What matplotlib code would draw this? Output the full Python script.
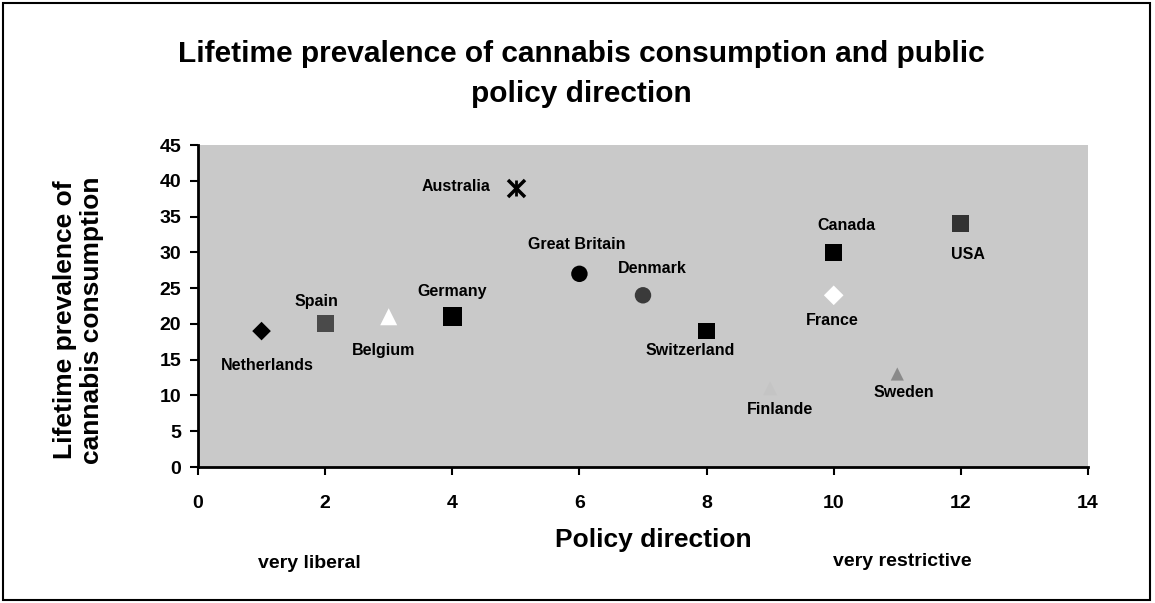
import matplotlib.pyplot as plt
import numpy as np

plt.rcParams['font.family'] = ['Liberation Sans', 'DejaVu Sans']

# data
countries = ["Netherlands", "Spain", "Belgium", "Germany", "Australia", "Great Britain",
             "Denmark", "Switzerland", "Finlande", "Canada", "France", "Sweden", "USA"]
policy = [1, 2, 3, 4, 5, 6, 7, 8, 9, 10, 10, 11, 12]
prevalence = [19, 20, 21, 21, 39, 27, 24, 19, 11, 30, 24, 13, 34]

# marker styles per country
markers = ["D", "s", "^", "s", "x", "o", "o", "s", "^", "s", "D", "^", "s"]
colors = ["black", "#4a4a4a", "white", "black", "black", "black", "#3a3a3a",
          "black", "#c4c4c4", "black", "white", "#8a8a8a", "#333333"]
sizes = [90, 150, 150, 190, 150, 140, 140, 140, 100, 150, 100, 90, 150]
# label offsets in points (dx, dy)
offsets = [(4, -25), (-6, 16), (-4, -24), (0, 18), (-43, 1), (-2, 21), (7, 19),
           (-12, -14), (7, -15), (9, 19), (-1, -18), (5, -13), (5, -22)]

fig = plt.figure(figsize=(11.55, 6.03), dpi=100)
ax = fig.add_axes([0.1714, 0.2255, 0.7706, 0.534])
ax.set_facecolor("#c9c9c9")

for i in range(len(countries)):
    if markers[i] == "x":
        ax.scatter(policy[i], prevalence[i], marker=markers[i], s=sizes[i], c=colors[i],
                   linewidths=2.5, zorder=3)
        ax.scatter(policy[i], prevalence[i], marker="|", s=sizes[i] * 0.8, c=colors[i],
                   linewidths=2, zorder=3)
    else:
        ax.scatter(policy[i], prevalence[i], marker=markers[i], s=sizes[i], c=colors[i],
                   edgecolors="none", zorder=3)
    ax.annotate(countries[i], (policy[i], prevalence[i]), xytext=offsets[i],
                textcoords="offset points", ha="center", va="center",
                fontsize=11.5, fontweight="bold")

ax.set_xlim(0, 14)
ax.set_ylim(0, 45)
ax.set_xticks(np.arange(0, 15, 2))
ax.set_yticks(np.arange(0, 46, 5))
ax.tick_params(axis="both", labelsize=14, width=1.5, length=6, direction="out")
for lab in ax.get_xticklabels() + ax.get_yticklabels():
    lab.set_fontweight("bold")
ax.tick_params(axis="x", pad=14)
ax.tick_params(axis="y", pad=6)
ax.spines["top"].set_visible(False)
ax.spines["right"].set_visible(False)
ax.spines["left"].set_linewidth(2)
ax.spines["bottom"].set_linewidth(2)

ax.set_xlabel("Policy direction", fontsize=19, fontweight="bold")
ax.xaxis.set_label_coords(0.512, -0.19)
ax.set_ylabel("Lifetime prevalence of\ncannabis consumption", fontsize=19,
              fontweight="bold", linespacing=1.15)
ax.yaxis.set_label_coords(-0.106, 0.457)

fig.text(0.503, 0.878, "Lifetime prevalence of cannabis consumption and public\npolicy direction",
         ha="center", va="center", fontsize=21.5, fontweight="bold", linespacing=1.55)
fig.text(0.268, 0.066, "very liberal", ha="center", va="center", fontsize=14, fontweight="bold")
fig.text(0.781, 0.069, "very restrictive", ha="center", va="center", fontsize=14, fontweight="bold")

# frame around the whole chart
fig.add_artist(plt.Rectangle((0.003, 0.005), 0.993, 0.99, transform=fig.transFigure,
                             fill=False, edgecolor="black", linewidth=1.5))

fig.savefig("out.png", dpi=100)
